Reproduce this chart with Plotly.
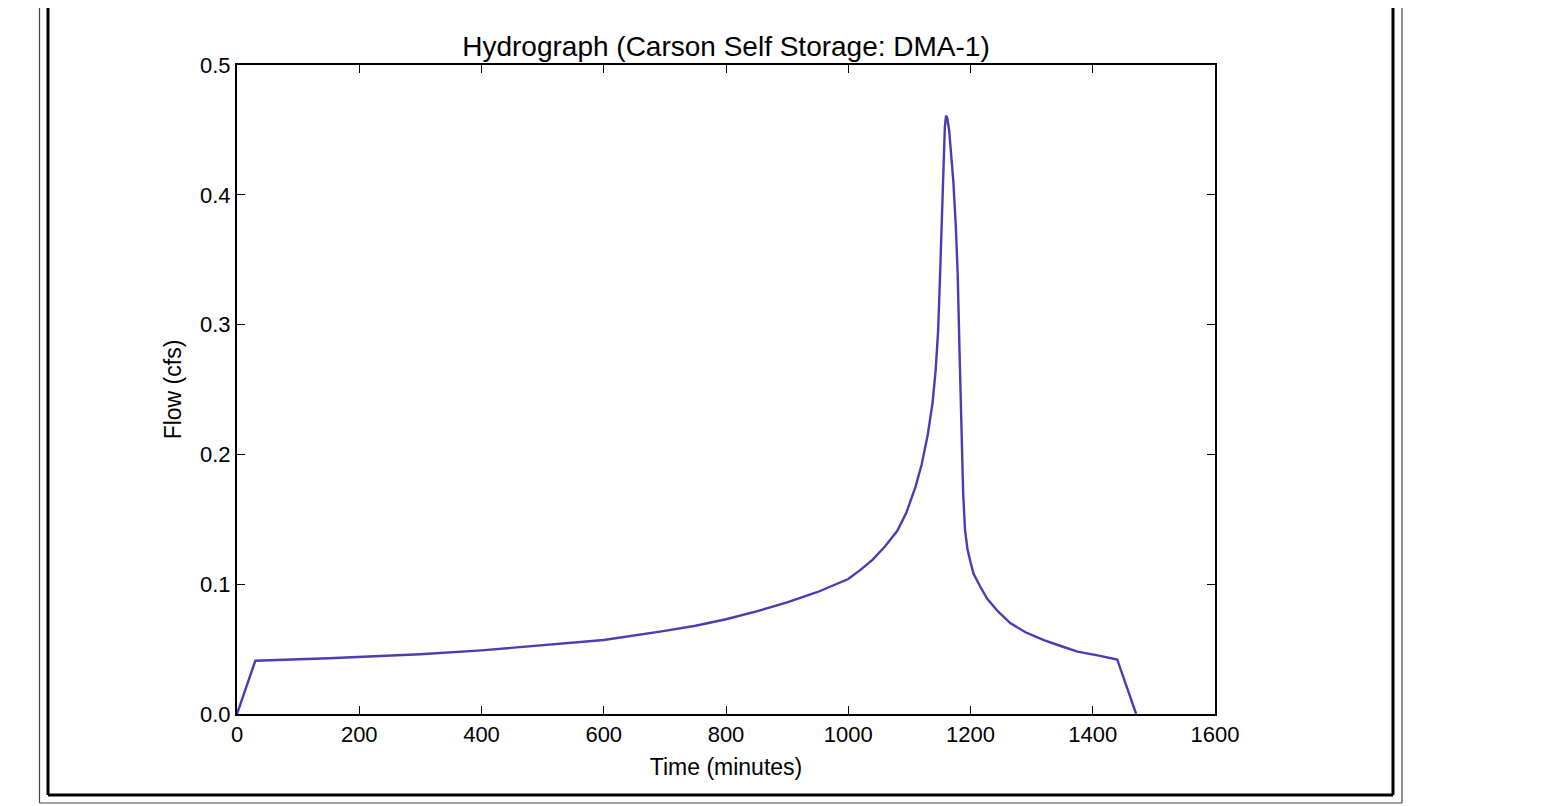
import plotly.graph_objects as go

# Hydrograph values
time_min = [0, 30, 150, 300, 400, 500, 600, 700, 750, 800, 850, 900, 950, 1000,
            1020, 1040, 1060, 1080, 1095, 1110, 1120, 1130, 1138, 1143, 1147,
            1150, 1153, 1156, 1158, 1160, 1162, 1165, 1168, 1172, 1176, 1179,
            1182, 1185, 1188, 1191, 1195, 1200, 1205, 1215, 1227, 1245, 1265,
            1290, 1320, 1350, 1375, 1410, 1440, 1471]
flow_cfs = [0.0, 0.041, 0.043, 0.046, 0.049, 0.053, 0.057, 0.064, 0.068, 0.073,
            0.079, 0.086, 0.094, 0.104, 0.111, 0.119, 0.129, 0.141, 0.155, 0.175,
            0.192, 0.215, 0.240, 0.265, 0.295, 0.335, 0.385, 0.430, 0.452, 0.461,
            0.459, 0.450, 0.435, 0.410, 0.375, 0.340, 0.280, 0.215, 0.170, 0.142,
            0.127, 0.117, 0.108, 0.099, 0.089, 0.079, 0.070, 0.063, 0.057, 0.052,
            0.048, 0.045, 0.042, 0.0]

x_ticks = [0, 200, 400, 600, 800, 1000, 1200, 1400, 1600]
y_ticks = [0.0, 0.1, 0.2, 0.3, 0.4, 0.5]

W, H = 1554, 806
OFF = 8  # page body margin offset
L, R, T, B = 237 - OFF, 1215 - OFF, 65 - OFF, 714 - OFF  # plot area in figure px

fig = go.Figure()
fig.add_trace(go.Scatter(x=time_min, y=flow_cfs, mode="lines",
                         line=dict(color="#4a3db3", width=2.4),
                         showlegend=False, hoverinfo="x+y"))

font = "Liberation Sans, Arial, sans-serif"

def px(xp):
    return (xp - OFF - L) / (R - L)

def py(yp):
    return (B - (yp - OFF)) / (B - T)

shapes = []
# outer thin frame (page pixel coords)
for x0, y0, x1, y1 in [(39.5, -20, 39.5, 803), (39.5, 803, 1402, 803), (1402, -20, 1402, 803)]:
    shapes.append(dict(type="line", xref="paper", yref="paper",
                       x0=px(x0), y0=py(y0), x1=px(x1), y1=py(y1),
                       line=dict(color="#444444", width=1.2)))
# inner thick frame
for x0, y0, x1, y1 in [(48, -20, 48, 795), (48, 795, 1393, 795), (1393, -20, 1393, 795)]:
    shapes.append(dict(type="line", xref="paper", yref="paper",
                       x0=px(x0), y0=py(y0), x1=px(x1), y1=py(y1),
                       line=dict(color="#000000", width=3)))

fig.update_layout(
    width=W, height=H,
    margin=dict(l=L, r=W - R, t=T, b=H - B, pad=0),
    paper_bgcolor="white", plot_bgcolor="white",
    font=dict(family=font, size=23, color="black"),
    title=dict(text="Hydrograph (Carson Self Storage: DMA-1)",
               x=((L + R) / 2) / W, xanchor="center",
               y=1 - (46 - OFF) / H, yanchor="middle",
               font=dict(family=font, size=28, color="black")),
    xaxis=dict(range=[0, 1600], tickvals=x_ticks,
               ticktext=[str(v) for v in x_ticks],
               showgrid=False, zeroline=False,
               showline=True, linecolor="black", linewidth=2, mirror="allticks",
               ticks="inside", ticklen=8, tickcolor="black", tickwidth=1,
               tickfont=dict(size=22),
               title=dict(text="Time (minutes)", standoff=12,
                          font=dict(size=23))),
    yaxis=dict(range=[0, 0.5], tickvals=y_ticks,
               ticktext=["%.1f" % v for v in y_ticks],
               showgrid=False, zeroline=False,
               showline=True, linecolor="black", linewidth=2, mirror="allticks",
               ticks="inside", ticklen=8, tickcolor="black", tickwidth=1,
               tickfont=dict(size=22),
               title=dict(text="Flow (cfs)", standoff=12,
                          font=dict(size=23))),
    shapes=shapes,
)

fig.write_html("out.html")
